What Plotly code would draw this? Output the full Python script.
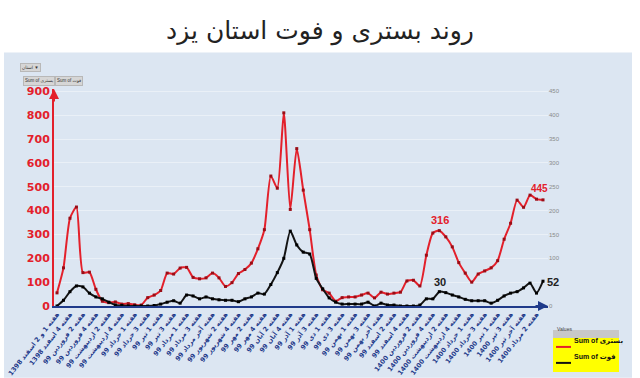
import plotly.graph_objects as go

# ---------------- data ----------------
tick_labels = [
    "هفته 1 و 2 اسفند 1398",
    "هفته 4 اسفند 1398",
    "هفته 2 فروردین 99",
    "هفته 4 فروردین 99",
    "هفته 2 اردیبهشت 99",
    "هفته 4 اردیبهشت 99",
    "هفته 1 خرداد 99",
    "هفته 3 خرداد 99",
    "هفته 1 تیر 99",
    "هفته 3 تیر 99",
    "هفته 1 مرداد 99",
    "هفته 3 مرداد 99",
    "هفته آخر مرداد 99",
    "هفته 2 شهریور 99",
    "هفته 4 شهریور 99",
    "هفته 2 مهر 99",
    "هفته 4 مهر 99",
    "هفته 2 آبان 99",
    "هفته 4 آبان 99",
    "هفته 1 آذر 99",
    "هفته 3 آذر 99",
    "هفته 1 دی 99",
    "هفته 3 دی 99",
    "هفته 1 بهمن 99",
    "هفته 3 بهمن 99",
    "هفته آخر بهمن 99",
    "هفته 2 اسفند 99",
    "هفته 4 اسفند 99",
    "هفته 2 فروردین 1400",
    "هفته 4 فروردین 1400",
    "هفته 2 اردیبهشت 1400",
    "هفته 4 اردیبهشت 1400",
    "هفته 1 خرداد 1400",
    "هفته 3 خرداد 1400",
    "هفته 1 تیر 1400",
    "هفته 3 تیر 1400",
    "هفته آخر تیر 1400",
    "هفته 2 مرداد 1400",
]

hospitalized = [55, 160, 368, 415, 140, 142, 70, 20, 14, 17,
                8, 10, 5, 4, 35, 46, 65, 138, 134, 159,
                162, 120, 114, 118, 138, 118, 82, 98, 136, 153,
                180, 240, 320, 545, 494, 810, 405, 660, 486, 320,
                130, 68, 54, 20, 35, 38, 38, 46, 54, 34,
                58, 50, 54, 58, 105, 108, 84, 213, 306, 316,
                290, 248, 182, 138, 100, 134, 147, 160, 190, 280,
                347, 444, 414, 465, 448, 445]

deaths = [0, 12, 30, 42, 40, 27, 19, 15, 8, 2,
          1, 0, 0, 0, 0, 1, 4, 8, 11, 6,
          23, 21, 15, 19, 15, 13, 12, 12, 9, 15,
          19, 27, 25, 45, 70, 100, 157, 128, 113, 109,
          58, 36, 17, 8, 4, 4, 4, 4, 8, 0,
          6, 2, 2, 0, 0, 0, 2, 15, 15, 30,
          28, 23, 19, 14, 11, 11, 11, 6, 12, 21,
          27, 30, 38, 48, 27, 52]

labelled_points = [59, 75]

series_names = ["Sum of بستری", "Sum of فوت"]
title_text = "روند بستری و فوت استان یزد"

# ---------------- geometry helpers ----------------
W, H = 640, 378
L, R, T, B = 54, 92, 88.6, 72
PW, PH = W - L - R, H - T - B


def px(x):
    return (x - L) / PW


def py(y):
    return (H - B - y) / PH


AR = "DejaVu Sans"
LAT = "Liberation Sans, DejaVu Sans"
RED = "#e3202b"
NAVY = "#1f3a8a"
BG = "#dce6f2"

x_idx = list(range(len(hospitalized)))
last = x_idx[-1]

fig = go.Figure()
fig.add_trace(go.Scatter(
    x=x_idx, y=hospitalized, name=series_names[0], mode="lines+markers",
    line=dict(color=RED, width=2, shape="spline", smoothing=0.6),
    marker=dict(size=3, color="#9a0d16", symbol="square"),
    yaxis="y", showlegend=False))
fig.add_trace(go.Scatter(
    x=x_idx, y=deaths, name=series_names[1], mode="lines+markers",
    line=dict(color="#141414", width=2, shape="spline", smoothing=0.6),
    marker=dict(size=3, color="#000000", symbol="square"),
    yaxis="y2", showlegend=False))

ann = []
for i in labelled_points:
    ann.append(dict(x=i, y=hospitalized[i], xref="x", yref="y", text=str(hospitalized[i]),
                    showarrow=False, yshift=11, xshift=(-4 if i == last else 1),
                    font=dict(family=LAT, size=(10 if i == last else 11), color=RED, weight="bold")))
    ann.append(dict(x=i, y=deaths[i], xref="x", yref="y2", text=str(deaths[i]),
                    showarrow=False, yshift=(-1 if i == last else 10),
                    xshift=(10 if i == last else 1),
                    bgcolor=(BG if i == last else None),
                    font=dict(family=LAT, size=11, color="#222222", weight="bold")))

# axis arrows
ann.append(dict(x=0, y=1.0, xref="paper", yref="paper", ax=0, ay=14, text="",
                showarrow=True, arrowhead=2, arrowsize=1, arrowwidth=2, arrowcolor=RED, standoff=0))
ann.append(dict(x=1.0, y=0, xref="paper", yref="paper", ax=-14, ay=0, text="",
                showarrow=True, arrowhead=2, arrowsize=1, arrowwidth=2, arrowcolor=NAVY, standoff=0))

# pivot field buttons
for text, cx, cy in [("استان ▼", 20, 63), ("Sum of بستری", 23, 76), ("Sum of فوت", 55, 76)]:
    ann.append(dict(x=px(cx), y=py(cy), xref="paper", yref="paper", text=text, showarrow=False,
                    font=dict(family=LAT, size=4.5, color="#333333"), bgcolor="#d6d6d6",
                    bordercolor="#b8b8b8", borderwidth=1, borderpad=1))

# custom legend
shapes = [
    dict(type="rect", xref="paper", yref="paper", x0=px(4), x1=px(632), y0=py(378), y1=py(52),
         fillcolor=BG, line=dict(width=0), layer="below"),
    dict(type="rect", xref="paper", yref="paper", x0=px(553), x1=px(619), y0=py(372), y1=py(330),
         fillcolor="#ffff00", line=dict(width=0)),
    dict(type="rect", xref="paper", yref="paper", x0=px(553), x1=px(619), y0=py(338), y1=py(330),
         fillcolor="#c8c8c8", line=dict(width=0)),
    dict(type="line", xref="paper", yref="paper", x0=px(556), x1=px(571), y0=py(347), y1=py(347),
         line=dict(color=RED, width=2)),
    dict(type="line", xref="paper", yref="paper", x0=px(556), x1=px(571), y0=py(363), y1=py(363),
         line=dict(color="#111111", width=2)),
]
ann.append(dict(x=px(555), y=py(334), xref="paper", yref="paper", text="Values", showarrow=False,
                xanchor="left", font=dict(family=LAT, size=5, color="#444444")))
for text, cy in [(series_names[0], 347), (series_names[1], 363)]:
    ann.append(dict(x=px(572), y=py(cy), xref="paper", yref="paper", text=text, showarrow=False,
                    xanchor="left", font=dict(family=LAT, size=7, color="#111111", weight="bold")))

fig.update_layout(
    width=W, height=H,
    margin=dict(l=L, r=R, t=T, b=B, autoexpand=False),
    paper_bgcolor="white", plot_bgcolor=BG,
    title=dict(text=title_text, x=0.5, xref="container", xanchor="center",
               y=1 - 30 / H, yref="container", yanchor="middle",
               font=dict(family=AR, size=25, color="#222222")),
    xaxis=dict(range=[(L - 57) / 6.48, (W - R - 57) / 6.48], automargin=False,
               tickmode="array", tickvals=list(range(0, len(hospitalized), 2)),
               ticktext=tick_labels, tickangle=-52,
               tickfont=dict(family=AR, size=6.5, color=NAVY, weight="bold"),
               showline=True, linecolor=NAVY, linewidth=2, showgrid=False,
               zeroline=False, ticks=""),
    yaxis=dict(range=[0, 910], dtick=100, automargin=False,
               tickfont=dict(family=AR, size=11, color=RED, weight="bold"),
               showline=True, linecolor=RED, linewidth=2, gridcolor="#eaf0f7", gridwidth=1,
               zeroline=False, ticks=""),
    yaxis2=dict(range=[0, 455], dtick=50, overlaying="y", side="right", automargin=False,
                tickfont=dict(family=LAT, size=6, color="#8a8a8a"),
                showgrid=False, showline=False, zeroline=False, ticks=""),
    annotations=ann, shapes=shapes, showlegend=False,
)

fig.write_html("out.html", config={"displayModeBar": False},
               post_script="document.body.style.margin='0';document.body.style.overflow='hidden';")
